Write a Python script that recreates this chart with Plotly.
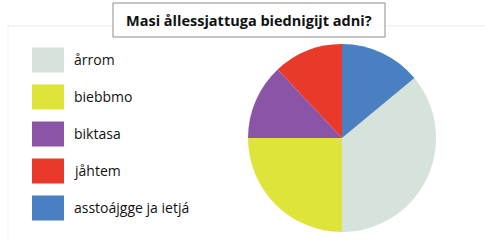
import plotly.graph_objects as go

title = "Masi ållessjattuga biednigijt adni?"
categories = ["årrom", "biebbmo", "biktasa", "jåhtem", "asstoájgge ja ietjá"]
values = [36, 25, 13, 12, 14]
colors = ["#d6e3da", "#dfe43a", "#8a55a6", "#e8392a", "#4a7fc1"]

W, H = 485, 240
FONT = "Open Sans"

# pie starts after the last (blue) slice
rotation = 360 * values[-1] / sum(values)

fig = go.Figure(go.Pie(
    labels=categories, values=values, sort=False, direction="clockwise",
    rotation=rotation, marker=dict(colors=colors, line=dict(width=0)),
    textinfo="none", hoverinfo="label+percent", showlegend=False,
    domain=dict(x=[248 / W, 436 / W], y=[1 - 232 / H, 1 - 44 / H]),
))

shapes = []
annotations = []

# faint panel lines
shapes.append(dict(type="line", xref="paper", yref="paper", x0=8 / W, x1=113 / W,
                   y0=1 - 26 / H, y1=1 - 26 / H, line=dict(color="#ececec", width=1)))
shapes.append(dict(type="line", xref="paper", yref="paper", x0=385 / W, x1=1,
                   y0=1 - 26 / H, y1=1 - 26 / H, line=dict(color="#ececec", width=1)))
shapes.append(dict(type="line", xref="paper", yref="paper", x0=8 / W, x1=8 / W,
                   y0=0, y1=1 - 26 / H, line=dict(color="#f2f2f2", width=1)))

# title box
shapes.append(dict(type="rect", xref="paper", yref="paper", x0=113 / W, x1=385 / W,
                   y0=1 - 37 / H, y1=1 - 3 / H, line=dict(color="#8c8c8c", width=1),
                   fillcolor="white"))
annotations.append(dict(text="<b>" + title + "</b>", xref="paper", yref="paper",
                        x=249 / W, y=1 - 20 / H, showarrow=False,
                        font=dict(family=FONT, size=14.5, color="#111111"),
                        xanchor="center", yanchor="middle"))

# custom legend
for i, (cat, col) in enumerate(zip(categories, colors)):
    yc = 60 + i * 37
    shapes.append(dict(type="rect", xref="paper", yref="paper", x0=32 / W, x1=64 / W,
                       y0=1 - (yc + 12.5) / H, y1=1 - (yc - 12.5) / H,
                       line=dict(width=0), fillcolor=col))
    annotations.append(dict(text=cat, xref="paper", yref="paper", x=72 / W, y=1 - (yc - 1) / H,
                            showarrow=False, xanchor="left", yanchor="middle",
                            font=dict(family=FONT, size=14, color="#111111")))

fig.update_layout(
    width=W, height=H, margin=dict(l=0, r=0, t=0, b=0),
    paper_bgcolor="white", plot_bgcolor="white",
    shapes=shapes, annotations=annotations,
)
fig.write_html("out.html", config={"displayModeBar": False},
               post_script="document.body.style.margin='0';document.body.style.padding='0';")
